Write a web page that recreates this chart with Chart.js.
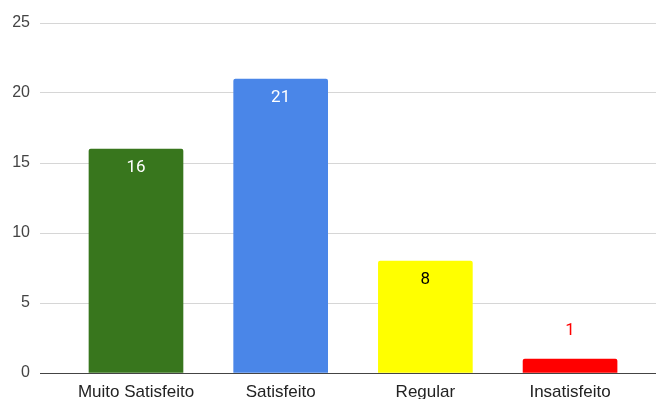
<!DOCTYPE html>
<html>
<head>
<meta charset="utf-8">
<script src="https://cdn.jsdelivr.net/npm/chart.js@4"></script>
<style>
  html, body { margin: 0; padding: 0; background: #fff; }
  #wrap { width: 656px; height: 399px; }
</style>
</head>
<body>
<div id="wrap"><canvas id="c" width="656" height="399"></canvas></div>
<script>
const categories = ['Muito Satisfeito', 'Satisfeito', 'Regular', 'Insatisfeito'];
const values = [16, 21, 8, 1];
const yTicks = [0, 5, 10, 15, 20, 25];

const barColors = ['#38761d', '#4a86e8', '#ffff00', '#ff0000'];
const labelColors = ['#ffffff', '#ffffff', '#000000', '#ff0000'];

const valueLabels = {
  id: 'valueLabels',
  afterDatasetsDraw(chart) {
    const ctx = chart.ctx;
    const meta = chart.getDatasetMeta(0);
    ctx.save();
    ctx.font = '17px Roboto';
    ctx.textAlign = 'center';
    ctx.textBaseline = 'middle';
    meta.data.forEach((bar, i) => {
      const h = bar.base - bar.y;
      let y;
      if (h > 30) { y = bar.y + 19; } else { y = bar.y - 28; }
      ctx.fillStyle = labelColors[i];
      ctx.fillText(String(values[i]), bar.x, y);
    });
    ctx.restore();
  }
};

new Chart(document.getElementById('c'), {
  type: 'bar',
  data: {
    datasets: [{
      data: categories.map((c, i) => ({ x: i, y: values[i] })),
      backgroundColor: barColors,
      borderRadius: { topLeft: 2, topRight: 2, bottomLeft: 0, bottomRight: 0 },
      borderSkipped: 'bottom',
      barThickness: 94
    }]
  },
  options: {
    responsive: false,
    animation: false,
    layout: { padding: { top: 23, right: 0, left: 0, bottom: 0 } },
    plugins: { legend: { display: false }, tooltip: { enabled: false } },
    scales: {
      x: {
        type: 'linear',
        offset: false,
        min: -0.6634,
        max: 3.594,
        afterBuildTicks: s => { s.ticks = categories.map((c, i) => ({ value: i })); },
        afterFit: s => { s.height = 26; },
        grid: { display: false, drawTicks: false },
        border: { display: true, color: '#444', width: 1 },
        ticks: {
          autoSkip: false,
          maxRotation: 0,
          padding: 9,
          color: '#222',
          font: { family: 'Liberation Sans, Arial, sans-serif', size: 17 },
          callback: v => categories[v] ?? ''
        }
      },
      y: {
        min: 0,
        max: 25,
        afterBuildTicks: s => { s.ticks = yTicks.map(v => ({ value: v })); },
        afterFit: s => { s.width = 40; },
        border: { display: false },
        grid: {
          drawTicks: false,
          color: c => (c.tick && c.tick.value === 0) ? '#444' : '#d6d6d6',
          lineWidth: 1
        },
        ticks: {
          padding: 10,
          color: '#444',
          font: { family: 'Liberation Sans, Arial, sans-serif', size: 16 }
        }
      }
    }
  },
  plugins: [valueLabels]
});
</script>
</body>
</html>
